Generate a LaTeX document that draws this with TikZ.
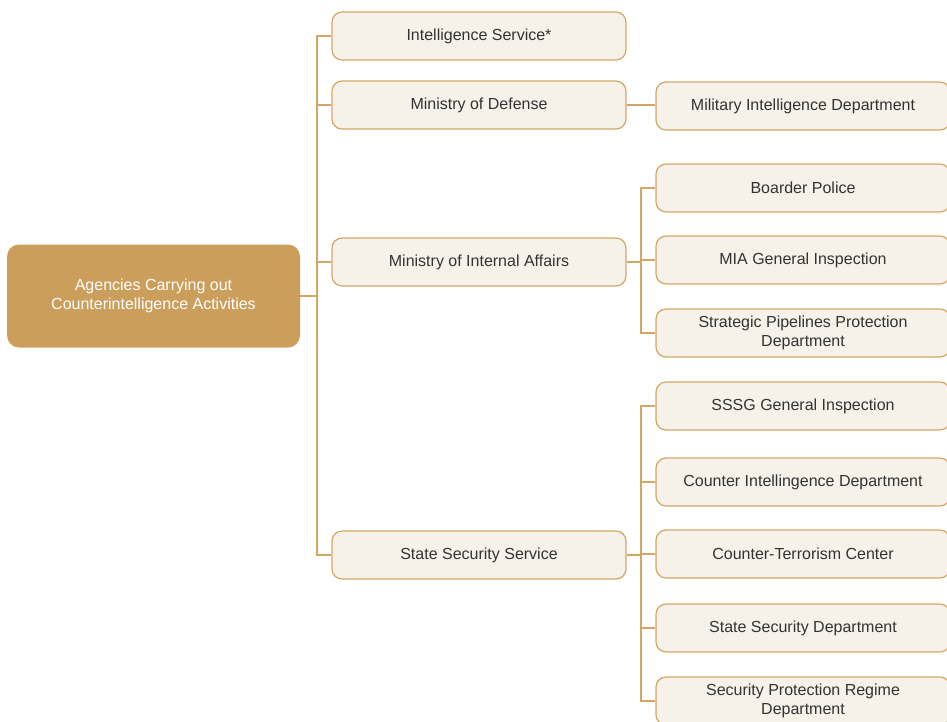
\documentclass[tikz,border=0pt]{standalone}
\usepackage{fontspec}
\setmainfont{Liberation Sans}
\usetikzlibrary{positioning}
\definecolor{ochre}{HTML}{CC9E5C}
\definecolor{tan}{HTML}{D2A764}
\definecolor{linen}{HTML}{F6F1E9}
\definecolor{ink}{HTML}{333333}

\begin{document}
\begin{tikzpicture}[
    x=1pt, y=-1pt,
    every node/.style={font=\fontsize{16}{19.5}\selectfont, text=ink, align=center},
    agency/.style={draw=tan, fill=linen, line width=1.2pt, rounded corners=10pt,
      minimum width=294pt, minimum height=48pt, inner sep=2pt},
    rootbox/.style={fill=ochre, rounded corners=12pt, text=white,
      minimum width=293pt, minimum height=103pt},
    link/.style={draw=tan, line width=2.2pt},
  ]

  % Page frame
  \useasboundingbox (0,0) rectangle (947,721);

  % === Root ===
  \node[rootbox] (root) at (153.5,296)
    {Agencies Carrying out\\Counterintelligence Activities};

  % === First level ===
  \node[agency] (intel) at (479,36)  {Intelligence Service*};
  \node[agency] (mod)   at (479,105) {Ministry of Defense};
  \node[agency] (mia)   at (479,262) {Ministry of Internal Affairs};
  \node[agency] (sss)   at (479,555) {State Security Service};

  % === Second level ===
  \node[agency] (mid)  at (803,106) {Military Intelligence Department};

  \node[agency] (bpol) at (803,188) {Boarder Police};
  \node[agency] (miag) at (803,260) {MIA General Inspection};
  \node[agency] (sppd) at (803,333) {Strategic Pipelines Protection\\Department};

  \node[agency] (ssgi) at (803,406) {SSSG General Inspection};
  \node[agency] (cid)  at (803,482) {Counter Intellingence Department};
  \node[agency] (ctc)  at (803,554) {Counter-Terrorism Center};
  \node[agency] (ssd)  at (803,628) {State Security Department};
  \node[agency] (sprd) at (803,701) {Security Protection Regime\\Department};

  % Connectors
  \coordinate (trunk) at (317,296);
  \draw[link] (root.east) -- (trunk);
  \foreach \n in {intel, mod, mia, sss}
    \draw[link] (trunk) |- (\n.west);

  \draw[link] (mod.east) -- (mid.west |- mod.east);

  \coordinate (miatrunk) at (641,262);
  \draw[link] (mia.east) -- (miatrunk);
  \foreach \n in {bpol, miag, sppd}
    \draw[link] (miatrunk) |- (\n.west);

  \coordinate (ssstrunk) at (641,555);
  \draw[link] (sss.east) -- (ssstrunk);
  \foreach \n in {ssgi, cid, ctc, ssd, sprd}
    \draw[link] (ssstrunk) |- (\n.west);

\end{tikzpicture}
\end{document}
